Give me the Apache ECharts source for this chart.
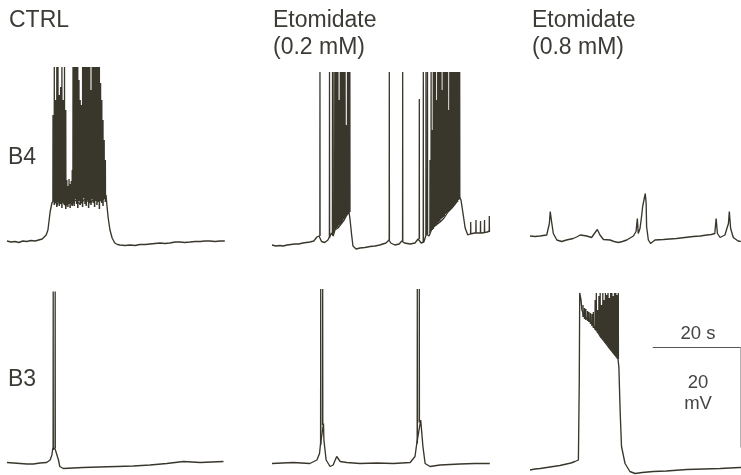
<!DOCTYPE html>
<html><head><meta charset="utf-8">
<script src="https://cdn.jsdelivr.net/npm/echarts@6/dist/echarts.min.js"></script>
<style>html,body{margin:0;padding:0;background:#fff;}#c{width:741px;height:475px;}</style>
</head><body><div id="c"></div>
<script>
// ---------- labels ----------
const conditions = ['CTRL', 'Etomidate\n(0.2 mM)', 'Etomidate\n(0.8 mM)'];
const neurons = ['B4', 'B3'];
const scaleLabels = ['20 s', '20\nmV'];

// ---------- data: time (s), membrane potential (mV) ----------
// B4, CTRL
const b4CtrlBase = [[0,-58.2],[0.9,-58.4],[1.8,-58.3],[2.7,-58.5],[3.6,-58.2],[4.5,-58.3],[5.4,-58.1],[6.4,-58.2],[7.2,-58.0],[8.0,-57.8],[8.9,-57.0],[9.3,-56.0],[9.8,-52.4],[10.2,-50.6],[10.7,-50.0],[11.4,-51.0],[12.0,-49.6],[12.7,-50.4],[13.4,-51.2],[13.9,-50.0],[14.3,-49.2],[14.8,-51.0],[15.5,-50.0],[16.6,-50.8],[17.7,-49.8],[18.9,-50.6],[20.0,-49.6],[21.1,-50.2],[22.0,-49.8],[22.5,-49.0],[22.7,-51.0],[23.0,-53.6],[23.4,-56.0],[23.9,-57.6],[24.5,-58.6],[25.1,-58.9],[25.7,-59.0],[26.8,-59.1],[28.0,-59.0],[29.1,-59.1],[30.2,-58.9],[31.4,-58.9],[32.5,-58.8],[33.6,-58.7],[34.8,-58.6],[35.9,-58.7],[37.0,-58.6],[38.2,-58.4],[39.3,-58.4],[40.4,-58.5],[41.6,-58.4],[42.7,-58.3],[43.9,-58.3],[45.0,-58.2],[46.1,-58.2],[47.3,-58.3],[48.4,-58.2],[49.5,-58.2]];
const b4CtrlSpikeT  = [10.45,10.75,11.02,11.32,11.59,11.89,12.18,12.48,12.77,13.07,13.36,13.6,13.85,14.1,14.35,14.6,14.82,15.0,15.27,15.55,15.82,16.09,16.36,16.64,16.91,17.18,17.45,17.73,18.0,18.27,18.55,18.82,19.09,19.36,19.64,19.91,20.18,20.45,20.73,21.0,21.27,21.55,21.82,22.09,22.36];
const b4CtrlSpikeLo = [-50.2,-51.0,-50.6,-51.4,-50.4,-51.2,-50.8,-51.6,-50.4,-51.0,-51.8,-51.0,-51.4,-50.8,-51.6,-50.6,-51.2,-50.6,-51.2,-49.8,-50.8,-51.6,-50.2,-51.0,-50.4,-51.4,-49.6,-50.8,-51.2,-50.0,-51.6,-50.4,-51.0,-49.8,-50.6,-51.4,-50.2,-51.0,-50.4,-51.8,-50.0,-50.6,-51.2,-49.8,-50.4];
const b4CtrlSpikeHi = [-33,-23.4,-30,-23.4,-23.4,-29,-27.4,-23.4,-30,-23.4,-32,-46.0,-47.2,-45.8,-46.8,-46.2,-44.0,-23.4,-23.4,-23.4,-23.4,-23.4,-26,-30,-31,-23.4,-23.4,-23.4,-23.4,-23.4,-23.4,-23.4,-28,-23.4,-23.4,-23.4,-23.4,-23.4,-23.4,-23.4,-26.6,-30,-34,-38,-42];

// B4, Etomidate 0.2 mM
const b4Eto02Base = [[0,-59.0],[0.9,-59.2],[1.8,-59.1],[2.6,-59.2],[3.4,-59.0],[4.3,-58.9],[5.2,-58.8],[6.1,-58.8],[7.0,-58.6],[7.8,-58.5],[8.6,-58.4],[9.5,-58.2],[10.2,-57.4],[10.7,-57.2],[11.25,-58.3],[12.0,-58.5],[12.7,-58.0],[13.2,-57.2],[13.5,-56.6],[13.9,-57.2],[14.3,-56.0],[15.0,-55.6],[15.7,-54.8],[16.4,-54.0],[17.0,-53.0],[17.5,-52.4],[17.7,-53.6],[18.1,-57.0],[18.4,-59.2],[19.1,-59.8],[20.0,-59.6],[21.1,-59.5],[22.3,-59.3],[23.4,-59.2],[24.5,-59.0],[25.9,-58.6],[26.6,-58.0],[27.0,-58.6],[27.9,-59.0],[28.9,-58.8],[29.5,-58.2],[30.1,-58.6],[31.4,-58.8],[32.5,-58.6],[33.2,-57.8],[33.9,-58.6],[34.5,-58.4],[35.1,-56.8],[35.7,-57.2],[36.4,-55.6],[37.3,-55.0],[38.2,-54.4],[39.1,-53.6],[40.0,-52.4],[40.9,-51.6],[41.8,-50.6],[42.5,-49.2],[42.95,-50.0],[43.4,-52.6],[43.9,-55.6],[44.5,-57.0],[45.0,-56.8],[45.5,-56.7],[46.1,-56.6],[46.8,-56.6],[47.7,-56.6],[48.9,-56.4],[49.5,-56.2]];
const b4Eto02SpikeT  = [10.9,13.07,13.75,14.1,14.43,14.7,14.98,15.25,15.52,15.8,16.07,16.34,16.61,16.89,17.16,17.43,17.7,26.66,29.7,33.48,34.39,35.0,35.34,35.91,36.16,36.41,36.66,36.91,37.16,37.41,37.66,37.91,38.16,38.41,38.66,38.91,39.16,39.41,39.66,39.91,40.16,40.41,40.66,40.91,41.16,41.41,41.66,41.91,42.16,42.41,42.66,45.16,46.36,47.39,48.3,49.39];
const b4Eto02SpikeLo = [-57.2,-57.6,-57.0,-56.6,-55.8,-55.6,-55.4,-55.0,-54.8,-54.6,-54.2,-53.8,-53.6,-53.2,-52.8,-52.6,-52.4,-58.0,-58.2,-57.8,-58.4,-57.0,-56.8,-56.6,-56.2,-56.0,-55.8,-55.4,-55.2,-54.8,-54.8,-54.4,-54.2,-53.8,-53.6,-53.4,-53.2,-52.8,-52.6,-52.4,-52.2,-52.0,-51.8,-51.6,-51.4,-51.0,-50.8,-50.6,-50.4,-50.0,-49.8,-56.7,-56.6,-56.6,-56.6,-56.4];
const b4Eto02SpikeHi = [-24.4,-24.4,-24.4,-24.4,-24.4,-24.4,-24.4,-30,-24.4,-24.4,-24.4,-24.4,-24.4,-35,-24.4,-24.4,-24.4,-24.4,-24.4,-29.8,-24.4,-24.4,-24.4,-42,-24.4,-36,-24.4,-24.4,-24.4,-30,-24.4,-24.4,-24.4,-24.4,-28,-24.4,-24.4,-24.4,-24.4,-24.4,-32,-24.4,-24.4,-24.4,-24.4,-24.4,-24.4,-24.4,-24.4,-24.4,-24.4,-54.4,-54.0,-54.2,-54.0,-53.2];

// B4, Etomidate 0.8 mM
const b4Eto08Base = [[0,-57.2],[1.1,-57.3],[2.3,-57.2],[3.0,-57.1],[3.8,-57.0],[4.4,-54.7],[4.6,-52.3],[4.9,-54.3],[5.3,-56.7],[6.1,-58.0],[7.2,-58.3],[8.3,-58.0],[9.8,-57.7],[10.6,-57.4],[11.4,-57.0],[12.2,-57.1],[12.9,-57.2],[14.0,-57.5],[14.8,-56.5],[15.3,-55.9],[15.9,-57.0],[16.7,-57.9],[18.2,-58.0],[19.1,-58.3],[20.1,-58.5],[21.0,-58.3],[22.0,-58.0],[23.5,-57.2],[24.1,-56.3],[24.4,-53.7],[24.6,-56.7],[25.0,-55.7],[25.4,-53.0],[25.6,-51.3],[25.9,-50.0],[26.2,-48.7],[26.4,-50.7],[26.5,-55.3],[26.9,-58.0],[27.4,-58.7],[28.4,-58.0],[30.3,-57.9],[31.8,-57.8],[33.3,-57.7],[35.2,-57.5],[37.1,-57.3],[38.7,-57.2],[40.2,-57.0],[41.2,-56.9],[42.0,-56.7],[42.3,-53.7],[42.6,-56.7],[43.2,-57.5],[44.3,-57.0],[45.1,-54.7],[45.3,-52.3],[45.6,-55.7],[46.2,-57.5],[47.3,-58.2],[47.9,-58.3]];
const b4Eto08SpikeT = [], b4Eto08SpikeLo = [], b4Eto08SpikeHi = [];

// B3, CTRL
const b3CtrlBase = [[0,-58.5],[1.5,-58.6],[3.0,-58.7],[4.5,-58.8],[6.0,-58.8],[7.5,-58.6],[9.0,-58.5],[9.8,-58.0],[10.2,-57.0],[10.4,-55.7],[10.9,-55.7],[11.3,-56.0],[11.7,-58.0],[12.0,-59.3],[12.8,-59.7],[15.0,-59.6],[17.3,-59.5],[21.0,-59.4],[24.9,-59.3],[28.7,-59.2],[32.5,-59.0],[36.3,-58.7],[40.1,-58.3],[43.9,-58.5],[46.5,-58.4],[49.2,-58.3]];
const b3CtrlSpikeT  = [10.5, 10.95];
const b3CtrlSpikeLo = [-56.0, -55.6];
const b3CtrlSpikeHi = [-24.3, -24.3];

// B3, Etomidate 0.2 mM
const b3Eto02Base = [[0,-58.7],[2.4,-58.6],[4.8,-58.5],[6.7,-58.6],[8.6,-58.7],[10.2,-58.0],[10.8,-56.7],[11.0,-55.0],[11.7,-50.7],[11.8,-54.0],[12.3,-58.0],[13.2,-59.3],[13.9,-59.0],[14.7,-57.3],[15.5,-58.3],[17.0,-58.5],[20.0,-58.7],[23.8,-58.6],[27.6,-58.7],[31.4,-58.5],[32.5,-57.3],[32.9,-54.7],[33.8,-50.0],[34.3,-55.3],[34.8,-58.7],[35.9,-59.3],[38.2,-59.0],[42.7,-58.8],[46.1,-58.7],[49.5,-58.7]];
const b3Eto02SpikeT  = [11.07, 11.52, 33.02, 33.48];
const b3Eto02SpikeLo = [-55.0, -51.0, -54.7, -50.5];
const b3Eto02SpikeHi = [-23.8, -23.8, -23.8, -23.8];

// B3, Etomidate 0.8 mM
const b3Eto08Base = [[0,-60.0],[1.1,-59.8],[2.3,-59.7],[3.8,-59.5],[5.3,-59.3],[6.8,-59.1],[8.3,-58.8],[9.3,-58.6],[10.2,-58.3],[11.0,-58.0],[11.2,-42.0],[11.3,-24.6],[11.6,-26.0],[11.8,-28.0],[12.3,-29.2],[13.6,-30.2],[14.8,-31.6],[15.9,-33.2],[17.0,-34.4],[18.2,-35.8],[19.3,-37.0],[20.0,-37.8],[20.2,-39.4],[20.5,-48.6],[20.8,-55.3],[21.6,-58.7],[22.7,-60.3],[23.9,-60.7],[25.5,-60.5],[28.0,-60.3],[31.0,-60.2],[35.6,-59.9],[39.5,-59.8],[43.2,-59.7],[47.7,-59.5],[49.5,-59.5]];
const b3Eto08SpikeT  = [12.05,12.4,12.7,13.1,13.4,13.75,14.1,14.4,14.8,15.07,15.36,15.66,15.95,16.25,16.55,16.84,17.14,17.43,17.73,18.02,18.32,18.61,18.91,19.2,19.5,19.8,20.07];
const b3Eto08SpikeLo = [-29.4,-29.8,-30,-30.2,-30.4,-30.8,-31.2,-31.6,-32,-32.2,-32.6,-32.8,-33.2,-33.6,-33.8,-34.2,-34.6,-34.8,-35.2,-35.6,-35.8,-36.2,-36.6,-36.8,-37.2,-37.4,-37.8];
const b3Eto08SpikeHi = [-27,-27.6,-27.8,-28.2,-28.4,-28.6,-28.8,-28.4,-26,-24.6,-28,-25.2,-24.6,-27,-24.6,-26,-24.6,-25,-24.6,-25.6,-24.6,-24.6,-25.2,-24.6,-24.6,-25,-24.6];

// calibration bar: 20 s, 20 mV
const scaleBarT = [27.9, 47.9];
const scaleBarV = [-35.5, -55.5];

// ---------- build chart ----------
const TRACE = '#39362b';
const TEXT = '#3d3b35';
const traces = [
  [b4CtrlBase, b4CtrlSpikeT, b4CtrlSpikeLo, b4CtrlSpikeHi],
  [b4Eto02Base, b4Eto02SpikeT, b4Eto02SpikeLo, b4Eto02SpikeHi],
  [b4Eto08Base, b4Eto08SpikeT, b4Eto08SpikeLo, b4Eto08SpikeHi],
  [b3CtrlBase, b3CtrlSpikeT, b3CtrlSpikeLo, b3CtrlSpikeHi],
  [b3Eto02Base, b3Eto02SpikeT, b3Eto02SpikeLo, b3Eto02SpikeHi],
  [b3Eto08Base, b3Eto08SpikeT, b3Eto08SpikeLo, b3Eto08SpikeHi]
];
function spikeData(T, Lo, Hi) {
  const out = [];
  for (let i = 0; i < T.length; i++) {
    out.push([T[i] - 0.03, Lo[i]], [T[i], Hi[i]], [T[i] + 0.03, Lo[i]], [T[i] + 0.03, '-']);
  }
  return out;
}
const PX_PER_S = 4.4;
const colLeft = [7, 272, 530];
const colWidth = [220, 220, 211];
const rowTop = [60, 280];
const grid = [], xAxis = [], yAxis = [], series = [];
for (let r = 0; r < 2; r++) {
  for (let c = 0; c < 3; c++) {
    const i = r * 3 + c;
    grid.push({ left: colLeft[c], top: rowTop[r], width: colWidth[c], height: 190, containLabel: false, show: false });
    xAxis.push({ type: 'value', gridIndex: i, min: 0, max: colWidth[c] / PX_PER_S, show: false });
    yAxis.push({ type: 'value', gridIndex: i, min: -60, max: -22, show: false });
    const [base, T, Lo, Hi] = traces[i];
    const common = { type: 'line', xAxisIndex: i, yAxisIndex: i, symbol: 'none', showSymbol: false, clip: false, silent: true, animation: false };
    series.push(Object.assign({ data: base, lineStyle: { color: TRACE, width: 1.35 } }, common));
    if (T.length) series.push(Object.assign({ data: spikeData(T, Lo, Hi), connectNulls: false, lineStyle: { color: TRACE, width: 1.3 } }, common));
  }
}
const sc = { type: 'line', xAxisIndex: 5, yAxisIndex: 5, symbol: 'none', clip: false, silent: true, animation: false };
series.push(Object.assign({ data: [[scaleBarT[0], scaleBarV[0]], [scaleBarT[1], scaleBarV[0]]], lineStyle: { color: '#555', width: 1 } }, sc));
series.push(Object.assign({ data: [[scaleBarT[1], scaleBarV[0]], [scaleBarT[1], scaleBarV[1]]], lineStyle: { color: '#999', width: 1 } }, sc));

const FONT = '"Liberation Sans", Arial, sans-serif';
const graphic = [];
const headX = [9, 273, 532];
conditions.forEach((t, i) => graphic.push({ type: 'text', x: headX[i], y: 7, style: { text: t, font: '23px ' + FONT, fill: TEXT, lineHeight: 27, verticalAlign: 'top' } }));
const rowLabelY = [146, 368];
neurons.forEach((t, i) => graphic.push({ type: 'text', x: 8, y: rowLabelY[i], style: { text: t, font: '23px ' + FONT, fill: TEXT, verticalAlign: 'top' } }));
graphic.push({ type: 'text', x: 698, y: 324, style: { text: scaleLabels[0], font: '18.5px ' + FONT, fill: '#444', align: 'center', verticalAlign: 'top' } });
graphic.push({ type: 'text', x: 698, y: 373, style: { text: scaleLabels[1], font: '18.5px ' + FONT, fill: '#444', align: 'center', lineHeight: 20.5, verticalAlign: 'top' } });

const chart = echarts.init(document.getElementById('c'), null, { renderer: 'canvas' });
chart.setOption({ backgroundColor: '#fff', animation: false, grid, xAxis, yAxis, series, graphic });
</script></body></html>
